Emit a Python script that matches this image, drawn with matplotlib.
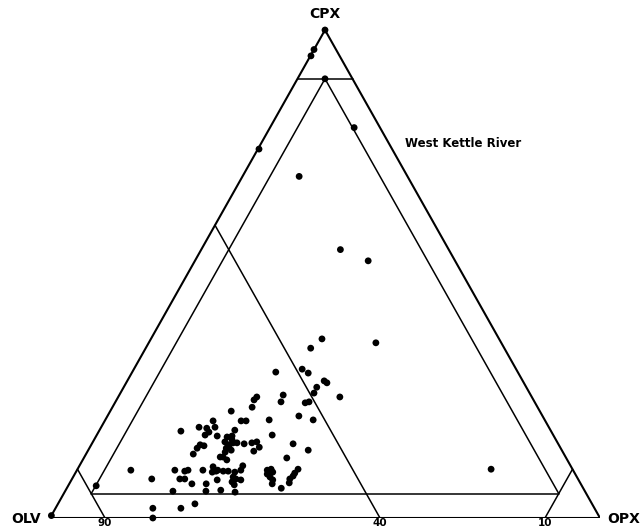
import numpy as np
import matplotlib.pyplot as plt

# modal compositions (vol %), West Kettle River
cpx = [100, 96, 94.7, 90, 80, 75.6, 70, 55, 52.7, 36.7, 34.8, 35.9, 29.9, 30.5,
       29.7, 28.1, 27.7, 26.8, 25.6, 24.8, 25.2, 23.8, 24.8, 24.2, 22.7, 23.8,
       23.6, 20.9, 20.1, 20.1, 19.9, 19.9, 21.9, 17.0, 15.2, 15.4, 15.6, 14.5,
       13.7, 15.2, 13.9, 12.3, 10.7, 9.8, 9.8, 10.0, 9.4, 9.0, 8.4, 7.8, 7.0,
       6.1, 10.0, 9.2, 8.6, 8.0, 7.2, 8.4, 8.0, 7.8, 7.4, 6.8, 5.3, 5.7, 7.0,
       5.5, 5.5, 7.0, 8.0, 8.0, 8.0, 9.8, 9.8, 9.6, 9.8, 9.8, 10.5, 9.6, 9.4,
       9.8, 9.6, 9.6, 9.4, 7.8, 2.0, 2.0, 2.9, 0, 0.5, 6.6, 17.8, 18.6, 18.4,
       19.9, 18.6, 17.6, 17.0, 16.8, 15.0, 14.8, 14.3, 13.1, 18.0, 16.6, 16.0,
       15.6, 15.0, 15.4, 15.4, 13.9, 13.5, 12.5, 12.5, 11.9, 14.5, 14.3, 16.8,
       10.0]
opx = [0, 0, 0.1, 5, 15.3, 0.2, 10.3, 25.3, 31.5, 31.1, 30.0, 41.3, 26.1, 30.6,
       32.1, 35.8, 36.5, 35.1, 35.2, 40.3, 29.8, 30.1, 25.2, 25.0, 25.4, 35.2,
       34.6, 34.8, 37.8, 29.8, 25.7, 24.8, 22.0, 31.9, 27.7, 29.0, 29.8, 30.8,
       30.2, 36.6, 40.0, 36.9, 29.7, 29.8, 34.6, 35.2, 35.8, 35.0, 35.8, 36.6,
       36.9, 39.0, 40.1, 39.9, 39.9, 39.6, 39.9, 29.1, 29.8, 30.8, 29.4, 30.1,
       31.0, 28.2, 24.9, 25.6, 19.6, 22.3, 20.5, 19.6, 14.5, 9.8, 17.8, 19.7,
       20.2, 22.9, 24.4, 25.4, 24.8, 25.6, 26.7, 27.6, 28.9, 26.5, 17.7, 22.8,
       24.9, 18.7, 0, 5.1, 14.9, 17.8, 19.3, 19.7, 20.7, 20.1, 19.7, 22.0, 19.8,
       20.6, 19.6, 19.5, 24.6, 23.9, 25.1, 24.0, 24.9, 25.6, 26.3, 26.0, 25.1,
       25.2, 24.7, 26.2, 25.3, 24.9, 24.7, 75.2]

corner_labels = ['OLV', 'OPX', 'CPX']
olv_ticks = [90, 40, 10]


def to_xy(c, o):
    """ternary (cpx %, opx %) -> plot coords; OLV bottom left, OPX bottom right"""
    c = np.asarray(c, dtype=float) / 100.0
    o = np.asarray(o, dtype=float) / 100.0
    return o + c / 2.0, c


def seg(ax, p, q, lw=1.0):
    x, y = to_xy([p[0], q[0]], [p[1], q[1]])
    ax.plot(x, y, color='black', lw=lw, solid_capstyle='round')


fig = plt.figure(figsize=(6.44, 5.29), dpi=100)
ax = fig.add_axes([50 / 644, 11 / 529, 550 / 644, 488 / 529])
ax.set_xlim(0, 1)
ax.set_ylim(0, 1)
ax.axis('off')

# outer triangle, corners given as (cpx, opx)
olv_pt, opx_pt, cpx_pt = (0, 0), (0, 100), (100, 0)
seg(ax, olv_pt, opx_pt, 1.5)
seg(ax, opx_pt, cpx_pt, 1.5)
seg(ax, cpx_pt, olv_pt, 1.5)

# 90 % cut-offs at each corner
seg(ax, (90, 0), (90, 10), 1.1)     # CPX = 90
seg(ax, (10, 0), (0, 10), 1.1)      # OLV = 90
seg(ax, (10, 90), (0, 90), 1.1)     # OPX = 90

# inner triangle through the 90/5/5 points
seg(ax, (90, 5), (5, 5), 1.1)
seg(ax, (5, 5), (5, 90), 1.1)
seg(ax, (5, 90), (90, 5), 1.1)

# OLV = 40 line
seg(ax, (60, 0), (0, 60), 1.1)

x, y = to_xy(cpx, opx)
ax.scatter(x, y, s=24, c='black', edgecolors='none', zorder=3, clip_on=False)

kw = dict(fontsize=10, fontweight='bold', family='DejaVu Sans')
ax.text(-0.016, -0.002, corner_labels[0], ha='right', va='center', **kw)
ax.text(1.013, -0.002, corner_labels[1], ha='left', va='center', **kw)
ax.text(0.5, 1.033, corner_labels[2], ha='center', va='center', **kw)

# OLV % marks along the base, tucked under the base line
for t in olv_ticks:
    tx, _ = to_xy(0, 100 - t)
    fx = (50 + 550 * tx) / 644
    fig.text(fx, 0.001, str(t), ha='center', va='bottom', fontsize=7.5,
             fontweight='bold', family='DejaVu Sans')

ax.text(0.645, 0.768, 'West Kettle River', ha='left', va='center',
        fontsize=8.5, fontweight='bold', family='DejaVu Sans')

fig.savefig('out.png', dpi=100)
